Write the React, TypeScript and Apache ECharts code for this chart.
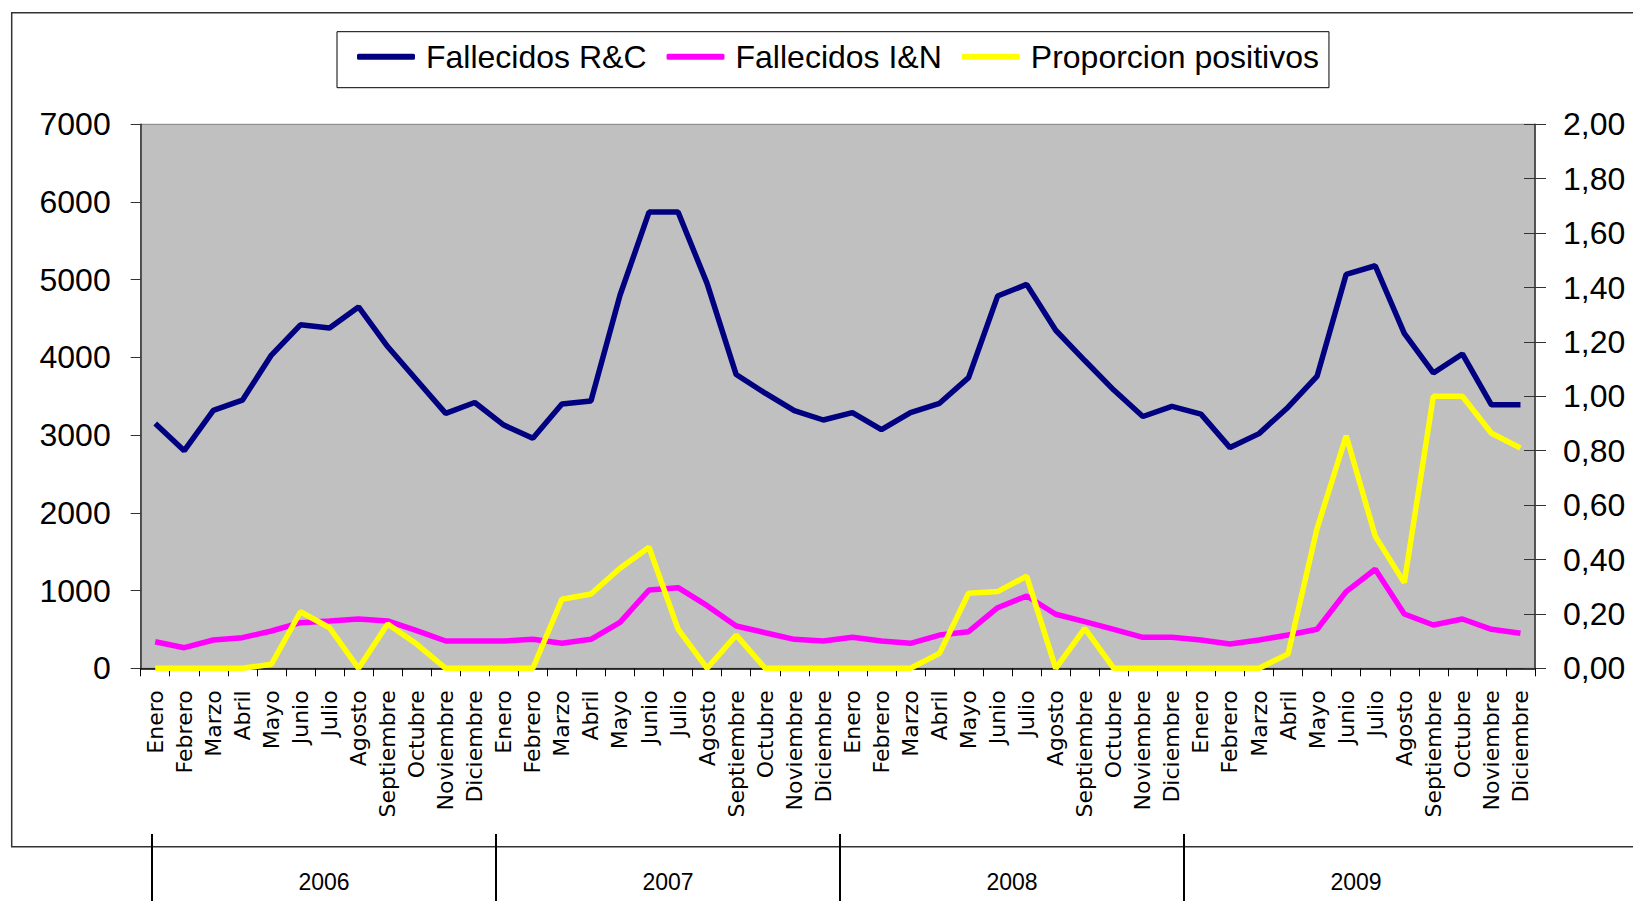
import React, { useEffect, useRef } from "react";
import * as echarts from "echarts";

const months = ["Enero", "Febrero", "Marzo", "Abril", "Mayo", "Junio", "Julio", "Agosto", "Septiembre", "Octubre", "Noviembre", "Diciembre"];
const years = ["2006", "2007", "2008", "2009"];

const fallecidosRC = [
  3150, 2800, 3320, 3450, 4030, 4420, 4380, 4650, 4140, 3710, 3280, 3420,
  3130, 2960, 3400, 3440, 4800, 5870, 5870, 4950, 3780, 3540, 3315, 3195,
  3290, 3070, 3290, 3410, 3740, 4790, 4940, 4350, 3960, 3580, 3240, 3370,
  3270, 2840, 3020, 3360, 3760, 5070, 5180, 4310, 3800, 4045, 3390, 3390,
];
const fallecidosIN = [
  342, 265, 364, 394, 480, 587, 609, 634, 609, 484, 351, 351,
  351, 373, 322, 373, 592, 1008, 1037, 806, 544, 458, 373, 351,
  399, 351, 322, 428, 471, 780, 930, 695, 600, 502, 399, 399,
  364, 313, 364, 428, 502, 986, 1274, 699, 557, 634, 502, 450,
];
const proporcionPositivos = [
  0, 0, 0, 0, 0.015, 0.208, 0.149, 0, 0.163, 0.089, 0, 0,
  0, 0, 0.254, 0.273, 0.368, 0.445, 0.144, 0, 0.122, 0, 0, 0,
  0, 0, 0, 0.055, 0.276, 0.282, 0.339, 0, 0.147, 0, 0, 0,
  0, 0, 0, 0.053, 0.515, 0.855, 0.486, 0.315, 1.0, 1.0, 0.864, 0.81,
];

const seriesNames = ["Fallecidos R&C", "Fallecidos I&N", "Proporcion positivos"];
const seriesColors = ["#000080", "#FF00FF", "#FFFF00"];

const leftTicks = { min: 0, max: 7000, interval: 1000 };
const rightTicks = { min: 0, max: 2, interval: 0.2 };

export default function App() {
  const ref = useRef<HTMLDivElement>(null);

  useEffect(() => {
    if (!ref.current) return;
    const chart = echarts.init(ref.current, undefined, { renderer: "svg" });
    const categories: string[] = [];
    years.forEach(() => months.forEach((m) => categories.push(m)));
    const yearCats = [...years, ""];
    const font = "'Liberation Sans', Arial, sans-serif";
    const dataSets = [fallecidosRC, fallecidosIN, proporcionPositivos];

    chart.setOption({
      animation: false,
      backgroundColor: "#ffffff",
      graphic: [
        {
          type: "rect",
          z: -10,
          silent: true,
          shape: { x: 11.7, y: 12.7, width: 1700, height: 834 },
          style: { fill: "none", stroke: "#333333", lineWidth: 1.5 },
        },
      ],
      legend: {
        left: 337,
        top: 31.7,
        orient: "horizontal",
        backgroundColor: "#ffffff",
        borderColor: "#000000",
        borderWidth: 1,
        padding: [8, 10, 14, 20],
        itemWidth: 58,
        itemHeight: 6,
        itemGap: 20,
        icon: "roundRect",
        textStyle: { fontFamily: font, fontSize: 32, color: "#000000", lineHeight: 34, padding: [0, 0, 0, 6] },
        data: seriesNames,
      },
      grid: [
        {
          left: 140.7,
          right: 98,
          top: 124.3,
          bottom: 232.7,
          show: true,
          backgroundColor: "#C0C0C0",
          borderColor: "#808080",
          borderWidth: 1,
          outerBoundsMode: "none",
        },
        { left: 152, width: 1720, top: 834, height: 67, outerBoundsMode: "none" },
      ],
      xAxis: [
        {
          type: "category",
          gridIndex: 0,
          data: categories,
          boundaryGap: true,
          axisLine: { show: true, lineStyle: { color: "#000000", width: 1.5 } },
          axisTick: { show: true, interval: 0, length: 8, lineStyle: { color: "#000000", width: 1 } },
          axisLabel: {
            interval: 0,
            rotate: 90,
            margin: 22,
            fontFamily: "'DejaVu Sans', Verdana, sans-serif",
            fontSize: 22,
            color: "#000000",
          },
          splitLine: { show: false },
        },
        {
          type: "category",
          gridIndex: 1,
          position: "top",
          data: yearCats,
          boundaryGap: true,
          axisLine: { show: false },
          axisTick: { show: false },
          axisLabel: {
            inside: true,
            interval: 0,
            margin: 48,
            verticalAlign: "middle",
            fontFamily: font,
            fontSize: 23,
            color: "#000000",
          },
          splitLine: {
            show: true,
            interval: (index: number) => index < years.length,
            lineStyle: { color: "#000000", width: 2 },
          },
        },
      ],
      yAxis: [
        {
          type: "value",
          gridIndex: 0,
          position: "left",
          ...leftTicks,
          axisLine: { show: true, lineStyle: { color: "#333333", width: 1.5 } },
          axisTick: { show: true, length: 10, lineStyle: { color: "#333333" } },
          axisLabel: {
            margin: 30,
            fontFamily: font,
            fontSize: 32,
            color: "#000000",
            formatter: (v: number) => String(v),
          },
          splitLine: { show: false },
        },
        {
          type: "value",
          gridIndex: 0,
          position: "right",
          ...rightTicks,
          axisLine: { show: true, lineStyle: { color: "#333333", width: 1.5 } },
          axisTick: { show: true, length: 11, lineStyle: { color: "#333333" } },
          axisLabel: {
            margin: 28,
            fontFamily: font,
            fontSize: 32,
            color: "#000000",
            formatter: (v: number) => v.toFixed(2).replace(".", ","),
          },
          splitLine: { show: false },
        },
        {
          type: "value",
          gridIndex: 0,
          position: "right",
          offset: 0,
          ...rightTicks,
          axisLine: { show: false },
          axisTick: { show: true, inside: true, length: 11, lineStyle: { color: "#333333" } },
          axisLabel: { show: false },
          splitLine: { show: false },
        },
        {
          type: "value",
          gridIndex: 1,
          show: false,
        },
      ],
      series: seriesNames.map((name, i) => ({
        name,
        type: "line",
        xAxisIndex: 0,
        yAxisIndex: i === 2 ? 1 : 0,
        data: dataSets[i],
        symbol: "none",
        color: seriesColors[i],
        itemStyle: { color: seriesColors[i] },
        lineStyle: { color: seriesColors[i], width: 5.5 },
      })),
    });

    return () => chart.dispose();
  }, []);

  return (
    <div
      ref={ref}
      style={{ position: "absolute", left: 0, top: 0, width: "1633px", height: "901px" }}
    />
  );
}
